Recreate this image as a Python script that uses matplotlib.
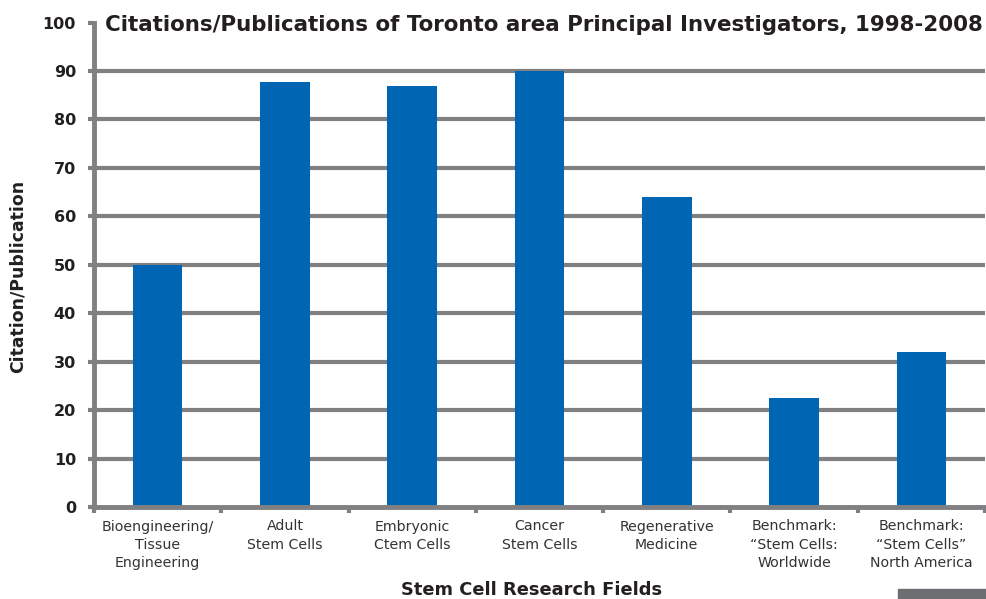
import matplotlib
matplotlib.use("Agg")
import matplotlib.pyplot as plt
from matplotlib.patches import Rectangle
import numpy as np

categories = ["Bioengineering/\nTissue\nEngineering", "Adult\nStem Cells", "Embryonic\nCtem Cells",
              "Cancer\nStem Cells", "Regenerative\nMedicine", "Benchmark:\n\u201cStem Cells:\nWorldwide",
              "Benchmark:\n\u201cStem Cells\u201d\nNorth America"]
values = [50, 87.7, 86.9, 90, 64, 22.6, 32]
yticks = [0, 10, 20, 30, 40, 50, 60, 70, 80, 90, 100]

plt.rcParams['font.family'] = ['DejaVu Sans']
GRAY = '#808083'
BLUE = '#0066b3'
TXT = '#231f20'

fig = plt.figure(figsize=(9.86, 5.99), dpi=100)
ax = fig.add_axes([94/986, 1-507/599, 891/986, (507-22.6)/599])
x = np.arange(len(categories))
ax.bar(x, values, width=0.39, color=BLUE, zorder=3)
for t in yticks[1:-1]:
    ax.axhline(t, color=GRAY, lw=3.0, zorder=2)
ax.set_xlim(-0.5, len(categories)-0.5)
ax.set_ylim(0, 100)
ax.set_yticks(yticks)
ax.set_yticklabels([str(t) for t in yticks], fontsize=11.5, fontweight='bold', color=TXT)
ax.set_xticks(np.arange(len(categories)+1)-0.5, minor=False)
ax.set_xticklabels([])
ax.set_xticks(x, minor=True)
ax.set_xticklabels(categories, minor=True, fontsize=10.2, color='#333333', linespacing=1.38)
ax.tick_params(axis='x', which='minor', length=0, pad=9)
ax.tick_params(axis='x', which='major', length=4, width=3, color=GRAY)
ax.tick_params(axis='y', length=4, width=3, color=GRAY, pad=9)
for s in ['top', 'right']:
    ax.spines[s].set_visible(False)
for s in ['left', 'bottom']:
    ax.spines[s].set_color(GRAY)
    ax.spines[s].set_linewidth(3.5)
    ax.spines[s].set_zorder(4)

ylab = fig.text(18/986, 1-276/599, "Citation/Publication", fontsize=11, fontweight='bold',
                color=TXT, ha='center', va='center', rotation=90)
xlab = fig.text(532/986, 1-590/599, "Stem Cell Research Fields", fontsize=12, fontweight='bold',
                color=TXT, ha='center', va='center')
title = fig.text(105/986, 1-25/599, "Citations/Publications of Toronto area Principal Investigators, 1998-2008",
                 fontsize=14, fontweight='bold', color=TXT, ha='left', va='center')

renderer = fig.canvas.get_renderer()
def fit(t, target, horiz=True):
    bb = t.get_window_extent(renderer)
    cur = bb.width if horiz else bb.height
    t.set_fontsize(t.get_fontsize() * target / cur)

fit(title, 880)
fit(xlab, 260)
fit(ylab, 192, horiz=False)

fig.patches.append(Rectangle((898/986, 0), 88/986, 10/599, transform=fig.transFigure,
                             color='#6d6e71', zorder=0))
fig.savefig("out.png", dpi=100)
